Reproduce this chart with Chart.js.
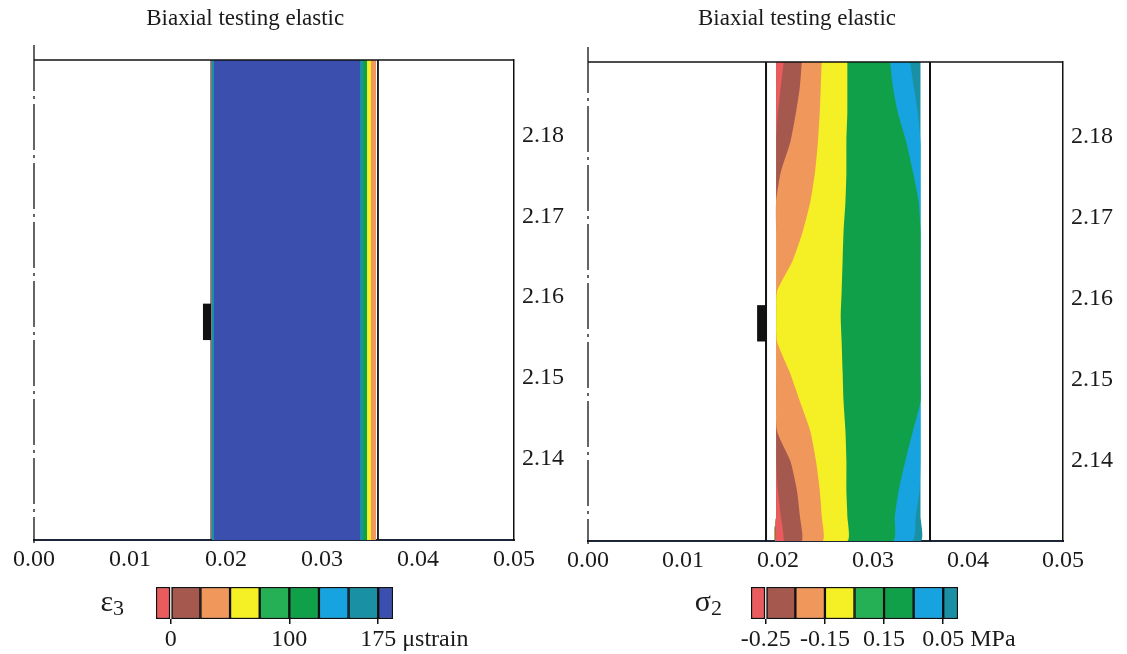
<!DOCTYPE html>
<html>
<head>
<meta charset="utf-8">
<script src="https://cdn.jsdelivr.net/npm/chart.js@4.4.1/dist/chart.umd.min.js"></script>
<style>
  html, body { margin: 0; padding: 0; background: #fff; overflow: hidden; }
  canvas { position: absolute; }
</style>
</head>
<body>
<canvas id="strain-section" width="575" height="580" style="left:0;top:0"></canvas>
<canvas id="stress-section" width="573" height="580" style="left:554px;top:0"></canvas>
<canvas id="strain-bar" width="440" height="74" style="left:80px;top:580px"></canvas>
<canvas id="stress-bar" width="460" height="74" style="left:640px;top:580px"></canvas>
<script>
const serif = '"Liberation Serif", "Times New Roman", serif';
const inkColor = "#1a1a1a";
const titleText = "Biaxial testing elastic";

// section geometry: radius (m) across, height (m) up
const radiusRange = [0, 0.05];
const heightRange = [2.13, 2.1893];
const radiusTicks = [0, 0.01, 0.02, 0.03, 0.04, 0.05];
const heightTicks = [2.14, 2.15, 2.16, 2.17, 2.18];

// contour colour levels shared by both scales
const levelColors = ["#e95b5c", "#a5584d", "#f0975c", "#f5ef25", "#25b055", "#10a04a", "#16a3e0", "#1a90a4", "#3b50ae"];

// ε3: bands run the full height, edges in m
const strainEdges = [0.01854, 0.01875, 0.03396, 0.03427, 0.03469, 0.0351, 0.03563];
const strainBandLevels = [7, 8, 7, 5, 3, 2];
const strainWalls = [0.01844, 0.03583];
const strainGaugeX = [0.0176, 0.01844];

// σ2: contour boundaries sampled at these heights
const stressHeights = [2.1893, 2.1862, 2.1831, 2.1794, 2.1757, 2.172, 2.1683, 2.1646, 2.1609, 2.1578, 2.1547, 2.151, 2.1473, 2.1436, 2.1399, 2.1362, 2.1331, 2.13];
const stressInner = 0.0198;
const redBrown = [0.0206, 0.0203, 0.02, 0.0198, 0.0198, 0.0198, 0.0198, 0.0198, 0.0198, 0.0198, 0.0198, 0.0198, 0.0198, 0.0198, 0.0198, 0.02, 0.0203, 0.0206];
const brownOrange = [0.0225, 0.0223, 0.0219, 0.0213, 0.0203, 0.0198, 0.0198, 0.0198, 0.0198, 0.0198, 0.0198, 0.0198, 0.0198, 0.0199, 0.0213, 0.022, 0.0223, 0.0225];
const orangeYellow = [0.0246, 0.0245, 0.0244, 0.0242, 0.0239, 0.0234, 0.0226, 0.0215, 0.0199, 0.0198, 0.0199, 0.0212, 0.0223, 0.0234, 0.024, 0.0244, 0.0246, 0.0247];
const yellowGreen = [0.0273, 0.0273, 0.0273, 0.0272, 0.0272, 0.0271, 0.0269, 0.0268, 0.0267, 0.0266, 0.0267, 0.0268, 0.0269, 0.0271, 0.0272, 0.0272, 0.0273, 0.0273];
const greenBlue = [0.0318, 0.0321, 0.0326, 0.0335, 0.0342, 0.0348, 0.035, 0.035, 0.035, 0.035, 0.035, 0.035, 0.035, 0.0342, 0.0334, 0.0327, 0.0323, 0.0321];
const blueTeal = [0.0339, 0.0343, 0.0347, 0.035, 0.035, 0.035, 0.035, 0.035, 0.035, 0.035, 0.035, 0.035, 0.035, 0.035, 0.035, 0.0349, 0.0345, 0.0341];
const stressOuter = [0.035, 0.035, 0.035, 0.035, 0.035, 0.035, 0.035, 0.035, 0.035, 0.035, 0.035, 0.035, 0.035, 0.035, 0.035, 0.035, 0.035, 0.035];
const stressBandLevels = [0, 1, 2, 3, 5, 6, 7];
const stressWalls = [0.01874, 0.036];
const stressGaugeX = [0.0178, 0.0188];

const gaugeY = [2.1547, 2.1592];

// colour scales
const strainLevels = [0, 25, 50, 75, 100, 125, 150, 175];
const strainTicks = [0, 100, 175];
const stressLevels = [0, 1, 2, 3, 4, 5, 6];
const stressTicks = [0, 2, 4, 6];
const stressTickLabels = ["-0.25", "-0.15", "0.15", "0.05"];

function rect(x0, x1, y0, y1) {
  return [{ x: x0, y: y0 }, { x: x1, y: y0 }, { x: x1, y: y1 }, { x: x0, y: y1 }];
}

// polygon from a straight inner edge out to a boundary curve
function bandFromInner(inner, bound, ys) {
  const pts = ys.map((y) => ({ x: inner, y }));
  for (let i = ys.length - 1; i >= 0; i--) {
    pts.push({ x: bound[i], y: ys[i] });
  }
  return pts;
}

function shapeDataset(points, color, tension = 0) {
  return {
    data: points,
    backgroundColor: color,
    borderColor: "rgba(0,0,0,0)",
    borderWidth: 0,
    pointRadius: 0,
    fill: "shape",
    tension,
  };
}

function wallDataset(x, width) {
  return {
    data: [{ x, y: heightRange[0] }, { x, y: heightRange[1] }],
    borderColor: "#111",
    borderWidth: width,
    pointRadius: 0,
    fill: false,
  };
}

const sectionFrame = {
  id: "sectionFrame",
  afterDatasetsDraw(chart) {
    const { ctx, chartArea: a } = chart;
    ctx.save();
    ctx.strokeStyle = "#111";
    ctx.lineWidth = 1.5;
    ctx.beginPath();
    ctx.moveTo(a.left, a.top);
    ctx.lineTo(a.right, a.top);
    ctx.stroke();
    // axis of symmetry
    ctx.lineWidth = 1.3;
    ctx.setLineDash([46, 5, 3, 5]);
    ctx.beginPath();
    ctx.moveTo(a.left, a.top - 15);
    ctx.lineTo(a.left, a.bottom + 3);
    ctx.stroke();
    ctx.restore();
  },
};

const sectionTitle = {
  id: "sectionTitle",
  afterDraw(chart) {
    const { ctx, chartArea: a } = chart;
    ctx.save();
    ctx.font = `23px ${serif}`;
    ctx.fillStyle = inkColor;
    ctx.textAlign = "center";
    ctx.textBaseline = "middle";
    ctx.fillText(titleText, a.left + 0.44 * (a.right - a.left), 19);
    ctx.restore();
  },
};

function createSectionChart(canvasId, datasets, topPad, yWidth, xHeight) {
  return new Chart(document.getElementById(canvasId), {
    type: "line",
    data: { datasets },
    options: {
      responsive: false,
      animation: false,
      events: [],
      layout: { padding: { left: 34, top: topPad } },
      plugins: { legend: { display: false }, tooltip: { enabled: false } },
      scales: {
        x: {
          type: "linear",
          min: radiusRange[0],
          max: radiusRange[1],
          afterBuildTicks: (s) => { s.ticks = radiusTicks.map((value) => ({ value })); },
          afterFit: (s) => { s.height = xHeight; },
          ticks: { callback: (v) => v.toFixed(2), font: { family: serif, size: 24 }, color: inkColor, padding: -3, maxRotation: 0, autoSkip: false },
          grid: { display: false },
          border: { display: true, color: "#1c2638", width: 2 },
        },
        y: {
          type: "linear",
          position: "right",
          min: heightRange[0],
          max: heightRange[1],
          afterBuildTicks: (s) => { s.ticks = heightTicks.map((value) => ({ value })); },
          afterFit: (s) => { s.width = yWidth; },
          ticks: { callback: (v) => v.toFixed(2), font: { family: serif, size: 24 }, color: inkColor, padding: 0, autoSkip: false },
          grid: { display: false },
          border: { display: true, color: "#111", width: 1.5 },
        },
      },
    },
    plugins: [sectionFrame, sectionTitle],
  });
}

function strainDatasets() {
  const sets = strainWalls.map((x, i) => wallDataset(x, i === 0 ? 1 : 1.8));
  sets.push(shapeDataset(rect(strainGaugeX[0], strainGaugeX[1], gaugeY[0], gaugeY[1]), "#111"));
  for (let i = 0; i < strainBandLevels.length; i++) {
    sets.push(shapeDataset(rect(strainEdges[0], strainEdges[i + 1], heightRange[0], heightRange[1]), levelColors[strainBandLevels[i]]));
  }
  return sets;
}

function stressDatasets() {
  const bounds = [redBrown, brownOrange, orangeYellow, yellowGreen, greenBlue, blueTeal, stressOuter];
  const sets = stressWalls.map((x) => wallDataset(x, 2));
  sets.push(shapeDataset(rect(stressGaugeX[0], stressGaugeX[1], gaugeY[0], gaugeY[1]), "#111"));
  bounds.forEach((bound, i) => {
    sets.push(shapeDataset(bandFromInner(stressInner, bound, stressHeights), levelColors[stressBandLevels[i]], 0.2));
  });
  return sets;
}

const colorbarText = {
  id: "colorbarText",
  afterDraw(chart, args, opts) {
    const { ctx, chartArea: a } = chart;
    const scale = chart.scales.x;
    const midY = (a.top + a.bottom) / 2;
    ctx.save();
    ctx.fillStyle = inkColor;
    ctx.textBaseline = "middle";
    // quantity symbol with subscript
    ctx.font = `22px ${serif}`;
    ctx.textAlign = "right";
    const subW = ctx.measureText(opts.sub).width;
    ctx.fillText(opts.sub, a.left - opts.gap, midY + 6);
    ctx.font = `30px ${serif}`;
    ctx.fillText(opts.symbol, a.left - opts.gap - subW, midY);
    // unit after the last tick label
    ctx.font = `24px ${serif}`;
    ctx.textAlign = "left";
    const lastTick = scale.ticks[scale.ticks.length - 1];
    const lastX = scale.getPixelForValue(lastTick.value);
    const lastW = ctx.measureText(lastTick.label).width;
    ctx.fillText(opts.unit, lastX + lastW / 2 + 6, a.bottom + 21);
    ctx.restore();
  },
};

function createColorbar(canvasId, levels, ticks, tickLabel, padding, text) {
  const half = (levels[1] - levels[0]) / 2;
  const edges = [levels[0] - half, ...levels, levels[levels.length - 1] + half];
  const cells = edges.slice(0, -1).map((lo, i) => [lo, edges[i + 1]]);
  return new Chart(document.getElementById(canvasId), {
    type: "bar",
    data: {
      labels: [""],
      datasets: cells.map((cell, i) => ({
        data: [cell],
        backgroundColor: levelColors[i],
        borderColor: "#111",
        borderWidth: 1.5,
        borderSkipped: false,
        barPercentage: 1,
        categoryPercentage: 1,
        grouped: false,
      })),
    },
    options: {
      indexAxis: "y",
      responsive: false,
      animation: false,
      events: [],
      layout: { padding },
      plugins: { legend: { display: false }, tooltip: { enabled: false }, colorbarText: text },
      scales: {
        x: {
          type: "linear",
          min: edges[0],
          max: edges[edges.length - 1],
          afterBuildTicks: (s) => { s.ticks = ticks.map((value) => ({ value })); },
          afterFit: (s) => { s.height = 35; },
          ticks: { callback: tickLabel, font: { family: serif, size: 24 }, color: inkColor, padding: 1, maxRotation: 0, autoSkip: false },
          grid: { display: true, drawOnChartArea: false, tickLength: 5, color: "#111", lineWidth: 1.5 },
          border: { display: false },
        },
        y: { display: false },
      },
    },
    plugins: [colorbarText],
  });
}

createSectionChart("strain-section", strainDatasets(), 60, 61, 40);
createSectionChart("stress-section", stressDatasets(), 62, 64, 39);

createColorbar("strain-bar", strainLevels, strainTicks, (v) => String(v),
  { left: 76, right: 127, top: 7 }, { symbol: "ε", sub: "3", unit: "μstrain", gap: 32 });
createColorbar("stress-bar", stressLevels, stressTicks, (v) => stressTickLabels[stressTicks.indexOf(v)],
  { left: 111, right: 142, top: 7 }, { symbol: "σ", sub: "2", unit: "MPa", gap: 29 });
</script>
</body>
</html>
